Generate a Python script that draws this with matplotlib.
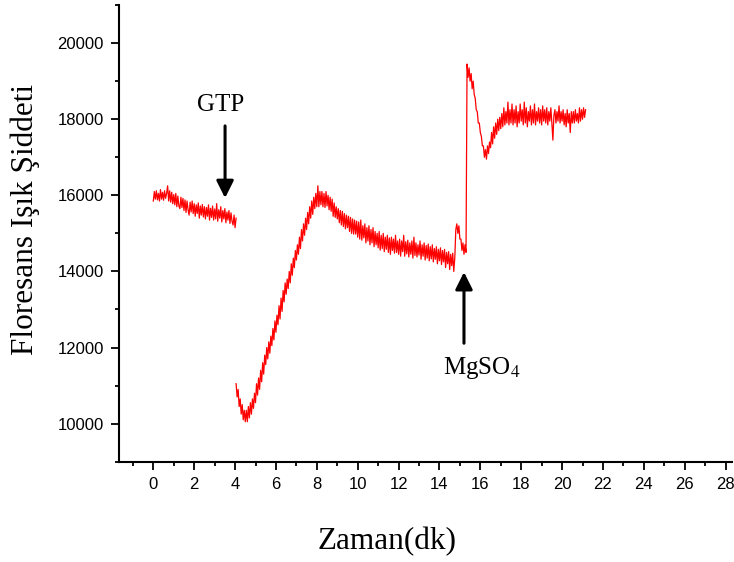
import numpy as np
import matplotlib
matplotlib.use("Agg")
import matplotlib.pyplot as plt

# ---- data ----
dt = 0.05
y1 = [15850, 16100, 15900, 16120, 15880, 16050, 15850, 16150, 15900, 16080,
      15870, 16120, 15920, 16050, 16250, 15850, 16120, 15820, 16080, 15780,
      16020, 15750, 16050, 15700, 15980, 15720, 15650, 15950, 15680, 15920,
      15600, 15880, 15550, 15850, 15620, 15480, 15820, 15560, 15850, 15520,
      15780, 15450, 15750, 15520, 15800, 15400, 15720, 15480, 15760, 15430,
      15700, 15380, 15680, 15450, 15750, 15350, 15660, 15420, 15720, 15350,
      15640, 15380, 15780, 15320, 15620, 15400, 15700, 15300, 15600, 15380,
      15650, 15280, 15560, 15350, 15600, 15260, 15540, 15320, 15220, 15480,
      15150, 15400]
t1_start = 0.0

y2 = [11050, 10700, 10900, 10450, 10650, 10250, 10500, 10100, 10350, 10050,
      10350, 10050, 10450, 10150, 10550, 10250, 10650, 10400, 10800, 10550,
      11050, 10750, 11200, 10900, 11400, 11100, 11600, 11300, 11800, 11550,
      12000, 11700, 12150, 11850, 12300, 12050, 12500, 12200, 12700, 12400,
      12850, 12600, 13100, 12750, 13300, 12950, 13500, 13200, 13700, 13400,
      13800, 13550, 14000, 13700, 14200, 13900, 14350, 14100, 14550, 14300,
      14700, 14450, 14900, 14600, 15100, 14800, 15250, 14950, 15400, 15100,
      15550, 15250, 15700, 15400, 15850, 15500, 15950, 15650, 16050, 15700,
      16250, 15700, 16100, 15750, 16100, 15700, 16050, 15680, 16100, 15720,
      16000, 15620, 15950, 15580, 15900, 15450, 15800, 15420, 15700, 15380,
      15650, 15280, 15600, 15220, 15580, 15180, 15520, 15120, 15480, 15150,
      15450, 15050, 15420, 15000, 15380, 14980, 15350, 14980, 15320, 14900,
      15300, 14850, 15350, 14820, 15200, 14880, 15250, 14750, 15150, 14800,
      15200, 14700, 15100, 14750, 15150, 14650, 15050, 14700, 15000, 14620,
      15050, 14560, 14950, 14600, 15000, 14520, 14900, 14580, 14950, 14500,
      14880, 14450, 14900, 14550, 14850, 14480, 14950, 14500, 14800, 14450,
      14850, 14400, 14800, 14520, 14950, 14400, 14780, 14460, 14820, 14380,
      14750, 14450, 14800, 14350, 14900, 14420, 14750, 14380, 14700, 14430,
      14800, 14320, 14700, 14400, 14750, 14300, 14680, 14350, 14720, 14280,
      14650, 14330, 14700, 14250, 14600, 14320, 14650, 14200, 14580, 14280,
      14620, 14180, 14550, 14250, 14580, 14100, 14500, 14200, 14520, 14050,
      14450, 14150, 14480, 14000, 14350, 15100, 15250, 15000, 15200, 14850,
      14850, 14550, 14750, 14450, 14700, 14500, 19450, 19100, 19350, 19000,
      19200, 18800, 19000, 18650, 18550, 18250, 18200, 17900, 17900, 17650,
      17550, 17300, 17300, 17000, 17200, 16950, 17300, 17100, 17400, 17250,
      17650, 17350, 17800, 17500, 17900, 17600, 18000, 17700, 18050, 17750,
      18150, 17800, 18300, 17850, 18200, 17900, 18450, 17850, 18250, 17900,
      18400, 17850, 18250, 17900, 18350, 17800, 18200, 17900, 18400, 17950,
      18250, 17850, 18450, 17900, 18300, 17800, 18200, 17950, 18350, 17850,
      18250, 17900, 18400, 17850, 18200, 17950, 18300, 17900, 18250, 17850,
      18350, 17950, 18250, 17900, 18300, 17850, 18200, 17950, 18300, 17900,
      17450, 18100, 18250, 17900, 18200, 17950, 18350, 17900, 18200, 17950,
      18250, 17850, 18150, 17800, 18250, 17900, 18150, 17650, 18200, 17900,
      18200, 17900, 18250, 17950, 18150, 17900, 18300, 17950, 18250, 18000,
      18300, 18050, 18250]
t2_start = 4.05

x_ticks = list(range(0, 29, 2))
y_ticks = [10000, 12000, 14000, 16000, 18000, 20000]
x_label = "Zaman(dk)"
y_label = "Floresans Işık Şiddeti"

t1 = t1_start + dt * np.arange(len(y1))
t2 = t2_start + dt * np.arange(len(y2))

# ---- figure ----
fig = plt.figure(figsize=(7.34, 5.62), dpi=100)
ax = fig.add_axes([0.1621, 0.1785, 0.8348, 0.8125])

ax.plot(t1, y1, color="#ff0000", lw=0.9)
ax.plot(t2, y2, color="#ff0000", lw=0.9)

ax.set_xlim(-1.68, 28.3)
ax.set_ylim(9000, 21000)
ax.set_xticks(x_ticks)
ax.set_xticks(np.arange(-1, 29, 2), minor=True)
ax.set_yticks(y_ticks)
ax.set_yticks(np.arange(9000, 21001, 2000), minor=True)

for s in ["top", "right"]:
    ax.spines[s].set_visible(False)
for s in ["left", "bottom"]:
    ax.spines[s].set_linewidth(1.5)

ax.tick_params(which="major", direction="out", length=6, width=1.3, pad=5,
               labelsize=12)
ax.tick_params(which="minor", direction="out", length=3, width=1.3)
for lab in ax.get_xticklabels() + ax.get_yticklabels():
    lab.set_family("Liberation Sans")

fig.text(0.527, 0.036, x_label, family="Liberation Serif", fontsize=22.5,
         ha="center", va="center")
fig.text(0.035, 0.61, y_label, family="Liberation Serif", fontsize=22.5,
         ha="center", va="center", rotation=90)

arrow = dict(arrowstyle="-|>", lw=2.2, mutation_scale=26, color="black",
             shrinkA=0, shrinkB=0)
ax.annotate("", xy=(3.51, 15929), xytext=(3.51, 17824), arrowprops=arrow)
ax.text(3.3, 18376, "GTP", family="Liberation Serif", fontsize=18,
        ha="center", va="center")
ax.annotate("", xy=(15.2, 13982), xytext=(15.2, 12113), arrowprops=arrow)
ax.text(16.05, 11455, "MgSO$_4$", family="Liberation Serif", fontsize=18,
        ha="center", va="center", math_fontfamily="stix")

fig.savefig("out.png", dpi=100)
